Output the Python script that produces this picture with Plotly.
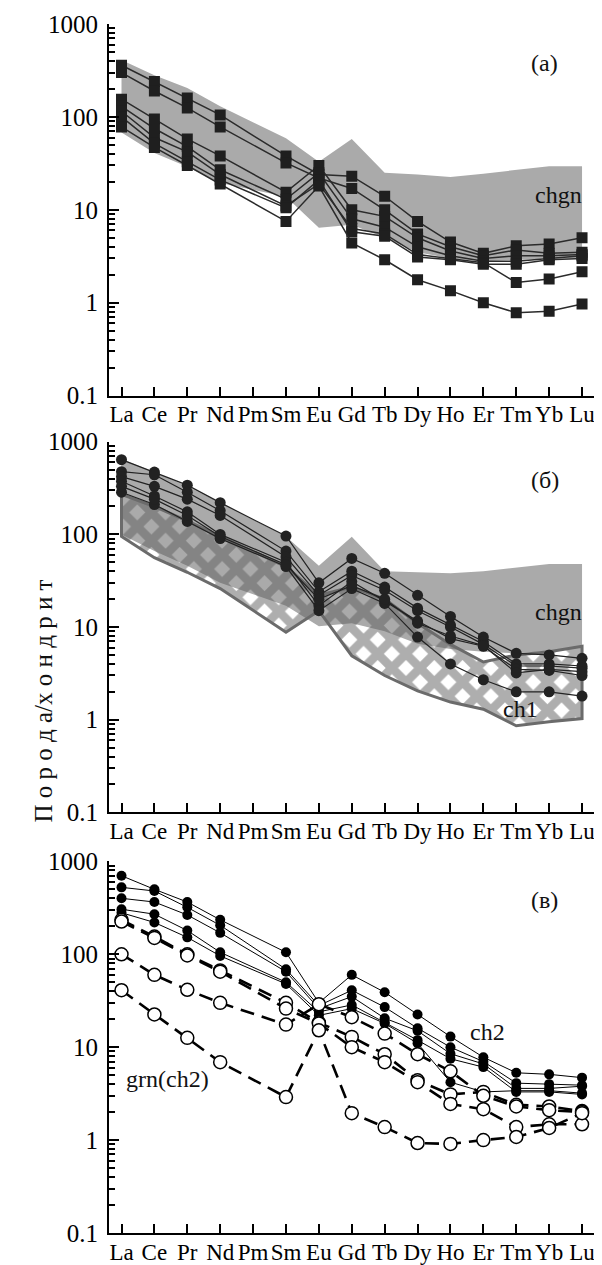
import plotly.graph_objects as go

# ---------------- data ----------------
elements = ["La", "Ce", "Pr", "Nd", "Pm", "Sm", "Eu", "Gd", "Tb", "Dy", "Ho", "Er", "Tm", "Yb", "Lu"]
ree = ["La", "Ce", "Pr", "Nd", "Sm", "Eu", "Gd", "Tb", "Dy", "Ho", "Er", "Tm", "Yb", "Lu"]
y_tickvals = [0.1, 1, 10, 100, 1000]
y_ticktext = ["0.1", "1", "10", "100", "1000"]

# panel (a)
chgn_a_upper = [410, 280, 205, 130, 59, 33, 58, 25, 24, 22.5, 24.5, 27, 29.5, 29.5]
chgn_a_lower = [68, 41, 29, 19.5, 13.8, 6.4, 6.9, 5.0, 3.5, 3.0, 2.8, 2.9, 3.0, 3.0]
a1 = [360, 240, 160, 105, 38, 24, 23, 14, 7.5, 4.5, 3.4, 4.1, 4.3, 5.0]
a2 = [300, 190, 125, 78, 32, 22, 17, 10, 5.5, 4.0, 3.2, 3.7, 3.4, 3.5]
a3 = [155, 95, 58, 38, 15.5, 30, 10, 8.5, 5.0, 3.6, 3.0, 3.2, 3.2, 3.3]
a4 = [130, 75, 48, 27, 13, 25, 8, 6.5, 4.0, 3.2, 2.8, 2.8, 3.0, 3.2]
a5 = [115, 60, 42, 24, 11, 19, 6.3, 5.5, 3.3, 3.0, 2.7, 1.65, 1.8, 2.15]
a6 = [100, 52, 33, 21, 10.5, 21, 5.8, 5.2, 3.1, 2.9, 2.6, 2.6, 2.9, 3.0]
a7 = [78, 47, 30, 19, 7.5, 18, 4.4, 2.9, 1.77, 1.35, 1.0, 0.78, 0.81, 0.97]

# panel (б)
chgn_b_upper = [650, 470, 330, 220, 95, 46, 94, 40, 39, 38, 40, 44, 48, 48]
chgn_b_lower = [100, 66, 46, 30, 17, 10.2, 11, 9, 6.6, 5.8, 5.4, 5.2, 5.5, 6.0]
ch1_upper = [270, 200, 140, 95, 45, 22, 27, 20, 11, 6.5, 4.2, 5.0, 5.4, 6.2]
ch1_lower = [95, 56, 39, 26, 8.8, 15, 4.9, 3.0, 2.05, 1.55, 1.3, 0.86, 0.95, 1.03]
b1 = [640, 470, 340, 220, 96, 30, 55, 38, 22, 13, 7.8, 5.2, 5.0, 4.6]
b2 = [475, 440, 285, 180, 66, 24, 40, 27, 16, 10.5, 7.0, 4.0, 4.0, 3.8]
b3 = [420, 330, 240, 160, 57, 22, 36, 25, 15, 10, 6.5, 3.8, 3.8, 3.6]
b4 = [375, 260, 175, 100, 50, 17, 31, 19, 11.6, 7.5, 6.2, 3.5, 3.4, 3.0]
b5 = [285, 210, 138, 90, 45, 15, 26, 18, 7.8, 4.0, 2.7, 2.0, 2.0, 1.8]
b6 = [330, 240, 160, 95, 47, 20, 28, 20, 11, 8.0, 6.3, 3.2, 3.5, 3.3]

# panel (в) - ch2 rocks (filled) and garnets (open)
c1 = [700, 500, 365, 235, 105, 30, 60, 39, 22.5, 13, 7.8, 5.3, 5.1, 4.7]
c2 = [525, 480, 320, 205, 69, 28, 41, 27, 16, 10, 7.0, 4.1, 4.0, 3.9]
c3 = [400, 365, 265, 170, 65, 26, 35, 20.5, 15, 8.5, 6.6, 3.6, 3.6, 3.8]
c4 = [305, 270, 180, 105, 50, 24, 28.5, 18.6, 11.9, 7.5, 6.1, 3.3, 3.3, 3.1]
c5 = [280, 220, 152, 96, 48, 22, 26, 18, 11, 4.2, 3.3, 3.4, 3.4, 3.2]
g1 = [235, 155, 100, 67, 30, 18.4, 12.9, 8.4, 4.4, 3.1, 3.3, 2.4, 2.3, 2.05]
g2 = [225, 150, 97, 65, 26, 18, 10, 6.9, 4.2, 2.45, 2.15, 1.38, 1.48, 1.48]
g3 = [100, 60, 41.5, 30, 17.5, 29, 21, 14, 8.4, 5.5, 3.0, 2.3, 2.1, 2.0]
g4 = [41, 22.5, 12.6, 6.9, 2.9, 15.2, 1.95, 1.38, 0.93, 0.91, 1.0, 1.08, 1.35, 1.95]

# ---------------- figure ----------------
xpos = [elements.index(e) for e in ree]
FONT = "Liberation Serif, Times New Roman, serif"
fig = go.Figure()


def band(upper, lower, ax, fillcolor, linecolor=None, linewidth=0, pattern=None):
    xs = xpos + xpos[::-1] + [xpos[0]]
    ys = upper + lower[::-1] + [upper[0]]
    fig.add_trace(go.Scatter(
        x=xs, y=ys, xaxis="x" + ax, yaxis="y" + ax, mode="lines", fill="toself",
        fillcolor=fillcolor, fillpattern=pattern,
        line=dict(color=linecolor or "rgba(0,0,0,0)", width=linewidth),
        hoverinfo="skip", showlegend=False))


def series(vals, ax, symbol, msize, mcolor, lcolor, lwidth, dash="solid", mline=0, mlinecolor="black"):
    fig.add_trace(go.Scatter(
        x=xpos, y=vals, xaxis="x" + ax, yaxis="y" + ax, mode="lines+markers",
        line=dict(color=lcolor, width=lwidth, dash=dash),
        marker=dict(symbol=symbol, size=msize, color=mcolor,
                    line=dict(width=mline, color=mlinecolor)),
        showlegend=False))


# panel (a)
band(chgn_a_upper, chgn_a_lower, "", "#aaaaaa")
for s in [a1, a2, a3, a4, a5, a6, a7]:
    series(s, "", "square", 11, "#1f1f1f", "#2b2b2b", 1.5)

# panel (б)
band(chgn_b_upper, chgn_b_lower, "2", "#aaaaaa")
band(ch1_upper, ch1_lower, "2", "rgba(0,0,0,0)", "#6b6b6b", 3,
     dict(shape="x", fgcolor="#5e5e5e", size=20, solidity=0.68))
for s in [b1, b2, b3, b4, b5, b6]:
    series(s, "2", "circle", 11, "#222222", "#222222", 1.2)

# panel (в)
for s in [c1, c2, c3, c4, c5]:
    series(s, "3", "circle", 10, "black", "black", 1.0)
for s in [g1, g2, g3, g4]:
    series(s, "3", "circle", 13, "white", "black", 2.6, dash="14px,8px", mline=1.5)

# axes
minor_vals = [m * 10 ** e for e in range(-1, 3) for m in range(2, 10)]
domains = {"": [0.6926, 1.0], "2": [0.3479, 0.6545], "3": [0.0, 0.3074]}
for ax, dom in domains.items():
    fig.update_layout(**{
        "xaxis" + ax: dict(
            domain=[0, 1], anchor="y" + ax, range=[-0.38, 14.85],
            tickmode="array", tickvals=list(range(len(elements))), ticktext=elements,
            tickangle=0, ticklabelstandoff=-3,
            ticks="inside", ticklen=9, tickwidth=2, tickcolor="black",
            showline=True, linecolor="black", linewidth=2,
            showgrid=False, zeroline=False,
            tickfont=dict(family=FONT, size=23, color="black")),
        "yaxis" + ax: dict(
            domain=dom, anchor="x" + ax, type="log", range=[-1, 3],
            tickmode="array", tickvals=y_tickvals, ticktext=y_ticktext,
            ticks="inside", ticklen=10, tickwidth=2, tickcolor="black",
            minor=dict(tickmode="array", tickvals=minor_vals, ticks="inside",
                       ticklen=6, tickwidth=1.5, tickcolor="black", showgrid=False),
            showline=True, linecolor="black", linewidth=2,
            showgrid=False, zeroline=False, ticklabelstandoff=4,
            tickfont=dict(family=FONT, size=25, color="black")),
    })

anns = [
    ("(a)", "x", "y", 12.87, 2.58),
    ("chgn", "x", "y", 13.27, 1.16),
    ("(б)", "x2", "y2", 12.87, 2.59),
    ("chgn", "x2", "y2", 13.27, 1.16),
    ("ch1", "x2", "y2", 12.14, 0.118),
    ("(в)", "x3", "y3", 12.87, 2.58),
    ("ch2", "x3", "y3", 11.14, 1.16),
    ("grn(ch2)", "x3", "y3", 1.41, 0.656),
]
for text, xr, yr, x, y in anns:
    fig.add_annotation(text=text, xref=xr, yref=yr, x=x, y=y, showarrow=False,
                       font=dict(family=FONT, size=24, color="#111111"))

fig.add_annotation(text="П о р о д а/х о н д р и т", xref="paper", yref="paper",
                   x=-0.1617, y=0.44, textangle=-90, showarrow=False,
                   font=dict(family=FONT, size=25, color="#111111"))

fig.update_layout(
    width=602, height=1265,
    margin=dict(l=101, r=0, t=16, b=40),
    paper_bgcolor="white", plot_bgcolor="white",
    showlegend=False,
)

fig.write_html("out.html")
